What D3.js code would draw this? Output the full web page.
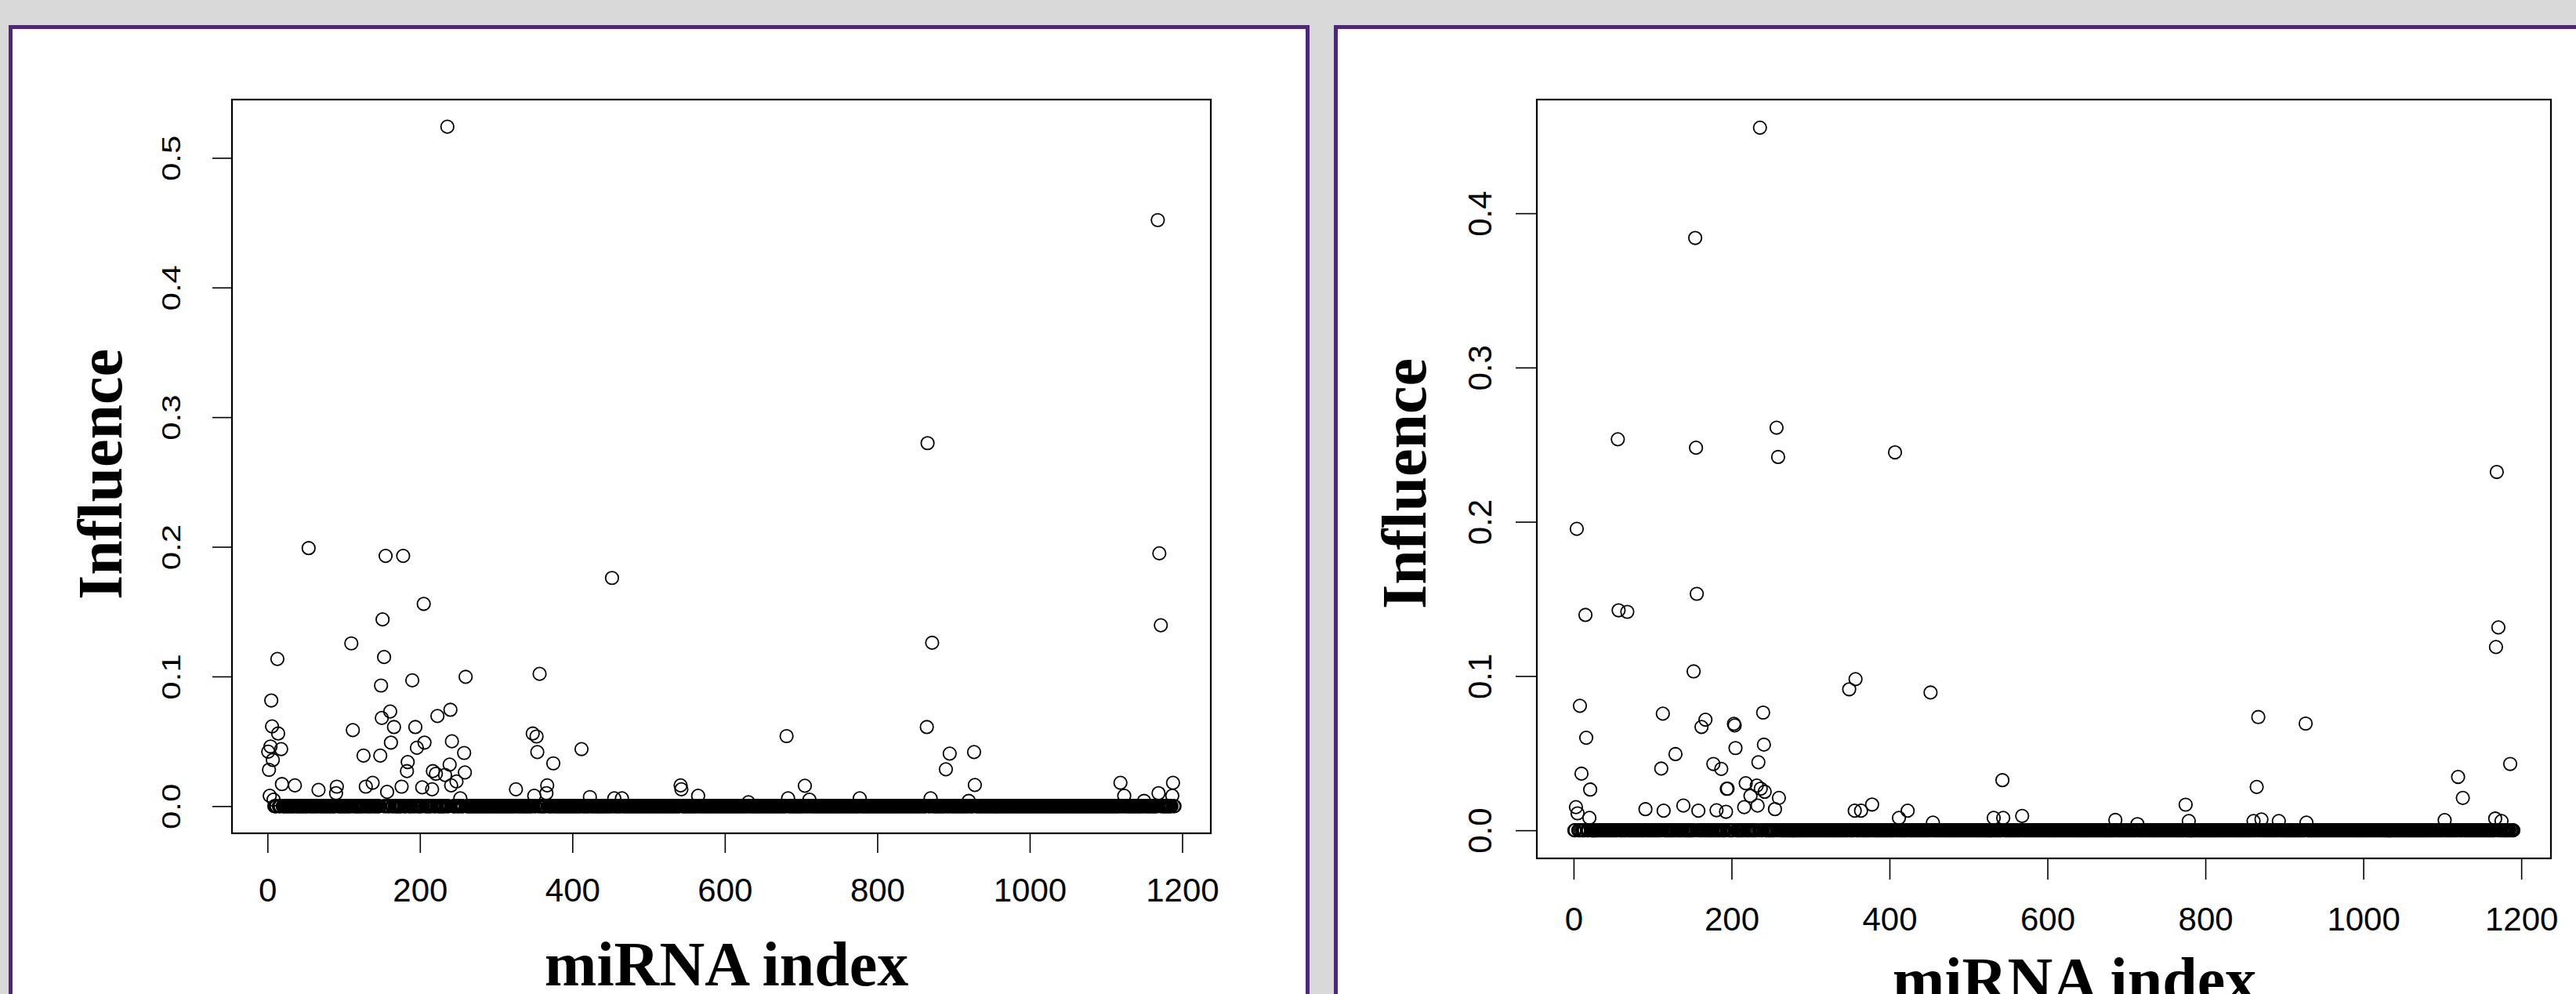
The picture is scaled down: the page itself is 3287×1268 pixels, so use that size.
<!DOCTYPE html>
<html>
<head>
<meta charset="utf-8">
<script src="https://cdn.jsdelivr.net/npm/d3@7"></script>
<style>
  html, body { margin: 0; padding: 0; background: #d9d9d9; }
  svg { display: block; }
</style>
</head>
<body>
<div id="chart"></div>
<script>
/*Data*/
// number of miRNAs on the x axis (index 1..nMirna)
const nMirna = 1190;
const xTicks = [0, 200, 400, 600, 800, 1000, 1200];
const yTicksLeft = [0, 0.1, 0.2, 0.3, 0.4, 0.5];
const yTicksRight = [0, 0.1, 0.2, 0.3, 0.4];

// miRNAs that lift off the baseline; every other index sits at 0
const leftIdx = [236, 1168, 866, 54, 155, 178, 1170, 452, 205, 151, 1172, 872, 110, 153, 13,
	357, 260, 190, 149, 5, 240, 161, 223, 150, 6, 166, 194, 865, 112, 14, 348, 353, 681, 242,
	162, 206, 196, 4, 18, 412, 1, 258, 354, 927, 895, 126, 148, 7, 184, 375, 239, 890, 2, 183,
	217, 259, 221, 233, 248, 1119, 1188, 138, 19, 36, 241, 367, 542, 928, 705, 91, 129, 176,
	203, 67, 216, 326, 543, 157, 90, 366, 1169, 565, 350, 1124, 1187, 3, 423, 455, 465, 253,
	683, 777, 870, 711, 8, 1150, 920, 631];
const leftVal = [0.524, 0.452, 0.280, 0.199, 0.193, 0.193, 0.195, 0.176, 0.156, 0.144, 0.1395,
	0.126, 0.1255, 0.115, 0.1135, 0.102, 0.0997, 0.097, 0.093, 0.0815, 0.0743, 0.073, 0.0695,
	0.068, 0.0615, 0.061, 0.061, 0.061, 0.0586, 0.056, 0.056, 0.0537, 0.054, 0.050, 0.049,
	0.049, 0.045, 0.046, 0.044, 0.044, 0.042, 0.041, 0.0417, 0.0417, 0.0405, 0.039, 0.039,
	0.0356, 0.034, 0.033, 0.032, 0.0284, 0.028, 0.027, 0.027, 0.026, 0.025, 0.024, 0.019,
	0.018, 0.018, 0.018, 0.017, 0.016, 0.016, 0.016, 0.016, 0.0163, 0.0157, 0.015, 0.015,
	0.015, 0.0145, 0.0125, 0.013, 0.013, 0.013, 0.011, 0.010, 0.010, 0.010, 0.008, 0.008,
	0.008, 0.008, 0.008, 0.007, 0.006, 0.006, 0.006, 0.006, 0.006, 0.006, 0.005, 0.005,
	0.004, 0.004, 0.003];

const rightIdx = [236, 154, 56, 155, 257, 259, 407, 4, 156, 15, 57, 68, 1169, 1171, 1168, 152,
	357, 349, 452, 8, 113, 240, 867, 927, 167, 162, 203, 204, 16, 205, 241, 129, 1186, 111,
	177, 187, 234, 10, 1120, 543, 218, 232, 237, 242, 865, 21, 194, 195, 224, 1126, 260, 378,
	775, 216, 233, 139, 3, 255, 91, 423, 356, 364, 114, 158, 181, 193, 5, 568, 532, 544, 412,
	20, 1167, 871, 686, 1103, 779, 861, 893, 1175, 928, 455, 714];
const rightVal = [0.4555, 0.384, 0.2535, 0.248, 0.261, 0.242, 0.245, 0.1954, 0.1533, 0.1396,
	0.1426, 0.1416, 0.2323, 0.1315, 0.1188, 0.103, 0.098, 0.0914, 0.0893, 0.0807, 0.0756,
	0.0763, 0.0734, 0.0692, 0.0717, 0.067, 0.069, 0.068, 0.060, 0.0533, 0.0555, 0.0494, 0.043,
	0.040, 0.043, 0.0398, 0.0441, 0.0367, 0.0346, 0.0325, 0.0305, 0.029, 0.027, 0.025, 0.0281,
	0.0264, 0.0269, 0.027, 0.0223, 0.021, 0.021, 0.0167, 0.0166, 0.015, 0.016, 0.016, 0.015,
	0.0137, 0.0137, 0.0127, 0.0127, 0.0127, 0.0127, 0.0127, 0.013, 0.012, 0.011, 0.0093, 0.008,
	0.008, 0.008, 0.008, 0.0076, 0.007, 0.0067, 0.0066, 0.006, 0.006, 0.006, 0.006, 0.005,
	0.005, 0.004];
/////////////////////////////////////////////////////////////////////////////

const W = 3287, H = 1268;

const svg = d3.select('#chart').append('svg')
	.attr('width', W)
	.attr('height', H)
	.style('background-color', '#d9d9d9');

//full series: listed outliers, zero elsewhere
const buildSeries = (idx, val) => {
	const lookup = new Map(idx.map((d, k) => [d, val[k]]));
	return d3.range(1, nMirna + 1).map(i => ({ i: i, v: lookup.has(i) ? lookup.get(i) : 0 }));
};

class InfluencePanel {
	constructor(layout, series, yTicks) {
		this.layout = layout;
		this.series = series;
		this.yTicks = yTicks;
		this.g = svg.append('g');
	}

	//R style: 4% padding around the data range
	setUp = () => {
		const L = this.layout;
		const yMax = d3.max(this.series, d => d.v);
		const xPad = (nMirna - 1) * 0.04;

		this.x = d3.scaleLinear()
			.domain([1 - xPad, nMirna + xPad])
			.range([L.box.left, L.box.right]);
		this.y = d3.scaleLinear()
			.domain([-yMax * 0.04, yMax * 1.04])
			.range([L.box.bottom, L.box.top]);

		//purple frame
		this.g.append('rect')
			.attr('x', L.frame.x)
			.attr('y', 34.5)
			.attr('width', L.frame.w)
			.attr('height', 1600)
			.style('fill', '#ffffff')
			.style('stroke', '#4f2778')
			.style('stroke-width', 5);
	}

	drawAxes = () => {
		const L = this.layout;

		const xAxis = this.g.append('g')
			.attr('transform', `translate(0,${L.box.bottom})`)
			.call(d3.axisBottom(this.x)
				.tickValues(xTicks)
				.tickSize(L.tick)
				.tickPadding(L.xPad)
				.tickFormat(d3.format('d')));
		xAxis.select('.domain').remove();
		xAxis.selectAll('line').style('stroke', '#000').style('stroke-width', 1.6);
		xAxis.selectAll('text')
			.style('font-family', '"Liberation Sans", Arial, sans-serif')
			.style('font-size', '42px')
			.style('fill', '#000');

		const yAxis = this.g.append('g')
			.attr('transform', `translate(${L.box.left},0)`)
			.call(d3.axisLeft(this.y)
				.tickValues(this.yTicks)
				.tickSize(L.tick)
				.tickFormat(d3.format('.1f')));
		yAxis.select('.domain').remove();
		yAxis.selectAll('line').style('stroke', '#000').style('stroke-width', 1.6);
		yAxis.selectAll('text')
			.attr('x', null)
			.attr('dy', null)
			.attr('text-anchor', 'middle')
			.attr('transform', `translate(${-L.yLabelOff},0) scale(${L.yLabelSx},1) rotate(-90)`)
			.style('font-family', '"Liberation Sans", Arial, sans-serif')
			.style('font-size', '42px')
			.style('fill', '#000');

		//plot box
		this.g.append('rect')
			.attr('x', L.box.left)
			.attr('y', L.box.top)
			.attr('width', L.box.right - L.box.left)
			.attr('height', L.box.bottom - L.box.top)
			.style('fill', 'none')
			.style('stroke', '#000')
			.style('stroke-width', 2.2);

		//titles
		this.g.append('text')
			.attr('transform', `translate(${L.yTitle[0]},${L.yTitle[1]}) rotate(-90)`)
			.attr('text-anchor', 'middle')
			.style('font-family', '"Liberation Serif", "Times New Roman", serif')
			.style('font-weight', 'bold')
			.style('font-size', '80px')
			.text('Influence');

		this.g.append('text')
			.attr('x', L.xTitle[0])
			.attr('y', L.xTitle[1])
			.attr('text-anchor', 'middle')
			.style('font-family', '"Liberation Serif", "Times New Roman", serif')
			.style('font-weight', 'bold')
			.style('font-size', '80px')
			.text('miRNA index');
	}

	drawPoints = () => {
		this.g.append('g')
			.selectAll('circle')
			.data(this.series)
			.join('circle')
			.attr('cx', d => this.x(d.i))
			.attr('cy', d => this.y(d.v))
			.attr('r', 8.2)
			.style('fill', 'none')
			.style('stroke', '#000')
			.style('stroke-width', 1.8);
	}
}

const leftPanel = new InfluencePanel({
	frame: { x: 13.5, w: 1655 },
	box: { left: 296, right: 1545, top: 127, bottom: 1063 },
	tick: 25, xPad: 32, yLabelOff: 66, yLabelSx: 0.77,
	yTitle: [155, 605], xTitle: [927, 1257]
}, buildSeries(leftIdx, leftVal), yTicksLeft);

const rightPanel = new InfluencePanel({
	frame: { x: 1704.5, w: 1700 },
	box: { left: 1961, right: 3255, top: 127, bottom: 1095 },
	tick: 27, xPad: 35, yLabelOff: 58, yLabelSx: 1,
	yTitle: [1819, 617], xTitle: [2647, 1277]
}, buildSeries(rightIdx, rightVal), yTicksRight);

[leftPanel, rightPanel].forEach(p => {
	p.setUp();
	p.drawAxes();
	p.drawPoints();
});
</script>
</body>
</html>
